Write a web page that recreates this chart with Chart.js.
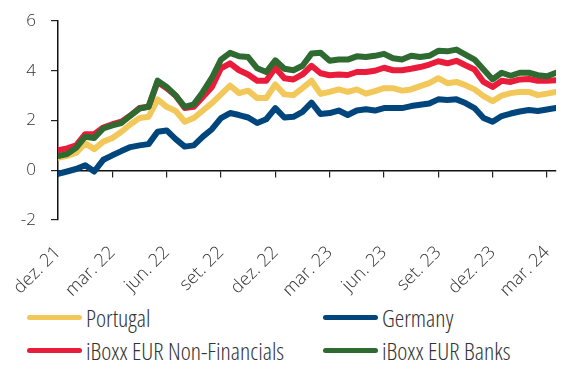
<!DOCTYPE html>
<html>
<head>
<meta charset="utf-8">
<script src="https://cdn.jsdelivr.net/npm/chart.js@4.4.1/dist/chart.umd.min.js"></script>
<style>
    html, body { margin: 0; padding: 0; background: #fff; }
    #wrap { position: relative; width: 562px; height: 371px; overflow: hidden; }
    #chart { position: absolute; left: 0; top: 0; }
    .legend-item {
        position: absolute;
        display: flex;
        align-items: center;
        height: 28px;
        font-family: 'Open Sans', sans-serif;
        font-weight: 300;
        font-stretch: 75%;
        font-size: 24px;
        color: #333;
        white-space: nowrap;
    }
    .legend-swatch { width: 55px; height: 5px; border-radius: 3px; margin-right: 4px; }
</style>
</head>
<body>
<div id="wrap">
    <canvas id="chart" width="562" height="300"></canvas>
    <div id="legend"></div>
</div>
<script>
// ============================================================
// Spreads chart: Portugal, Germany and two iBoxx EUR indices
// ============================================================

// Quarter tick labels (month offset from Dec 2021 -> label)
const tickMonths = [0, 3, 6, 9, 12, 15, 18, 21, 24, 27];
const tickLabels = ['dez. 21', 'mar. 22', 'jun. 22', 'set. 22', 'dez. 22',
                    'mar. 23', 'jun. 23', 'set. 23', 'dez. 23', 'mar. 24'];

// Values read twice a month, starting at Dec 2021
const portugal = [
    0.5, 0.58, 0.7, 1.08, 0.85, 1.15, 1.3, 1.55, 1.85, 2.1,
    2.15, 2.85, 2.55, 2.38, 1.95, 2.1, 2.4, 2.7, 3.05, 3.4,
    3.1, 3.2, 2.9, 2.9, 3.45, 3.05, 3.02, 3.3, 3.6, 3.07,
    3.15, 3.25, 3.15, 3.25, 3.08, 3.18, 3.3, 3.3, 3.2, 3.25,
    3.38, 3.5, 3.7, 3.5, 3.55, 3.42, 3.25, 2.98, 2.78, 3.0,
    3.1, 3.15, 3.15, 3.02, 3.08, 3.15
];
const germany = [
    -0.15, -0.05, 0.05, 0.2, -0.05, 0.42, 0.6, 0.77, 0.93, 1.0,
    1.05, 1.55, 1.6, 1.25, 0.95, 1.0, 1.35, 1.65, 2.1, 2.3,
    2.22, 2.12, 1.9, 2.05, 2.5, 2.12, 2.15, 2.35, 2.72, 2.26,
    2.3, 2.4, 2.22, 2.4, 2.45, 2.4, 2.5, 2.5, 2.5, 2.58,
    2.63, 2.68, 2.85, 2.82, 2.85, 2.7, 2.5, 2.1, 1.95, 2.18,
    2.28, 2.36, 2.42, 2.38, 2.44, 2.5
];
const nonFinancials = [
    0.8, 0.88, 1.0, 1.45, 1.45, 1.72, 1.85, 1.95, 2.2, 2.5,
    2.55, 3.55, 3.3, 3.0, 2.5, 2.55, 2.95, 3.35, 4.1, 4.3,
    4.02, 3.85, 3.6, 3.6, 4.12, 3.7, 3.65, 3.85, 4.2, 3.9,
    3.82, 3.85, 3.83, 3.95, 3.95, 4.0, 4.12, 4.02, 4.02, 4.08,
    4.15, 4.25, 4.38, 4.3, 4.4, 4.22, 4.05, 3.55, 3.35, 3.6,
    3.55, 3.65, 3.67, 3.6, 3.6, 3.62
];
const banks = [
    0.57, 0.65, 0.9, 1.35, 1.3, 1.68, 1.8, 1.9, 2.2, 2.48,
    2.55, 3.6, 3.35, 3.0, 2.55, 2.65, 3.15, 3.72, 4.45, 4.72,
    4.58, 4.55, 4.1, 3.95, 4.42, 4.08, 4.02, 4.2, 4.69, 4.72,
    4.4, 4.45, 4.45, 4.58, 4.55, 4.6, 4.68, 4.5, 4.45, 4.6,
    4.55, 4.6, 4.8, 4.78, 4.85, 4.65, 4.45, 4.05, 3.65, 3.92,
    3.8, 3.92, 3.92, 3.82, 3.78, 3.92
];

const seriesNames = ['Portugal', 'Germany', 'iBoxx EUR Non-Financials', 'iBoxx EUR Banks'];
const seriesData = [portugal, germany, nonFinancials, banks];
const seriesColors = ['#F3C85A', '#00467D', '#E91C3C', '#2F6A31'];
const drawOrder = [2, 3, 1, 0]; // banks on top

const FONT = "'Open Sans', sans-serif";
const xMax = (portugal.length - 1) / 2;

// points sit every half month
function toPoints(values) {
    return values.map((v, i) => ({ x: i / 2, y: v }));
}

function setQuarterTicks(scale) {
    scale.ticks = tickMonths.map(v => ({ value: v }));
}

const datasets = seriesNames.map((name, i) => ({
    label: name,
    data: toPoints(seriesData[i]),
    borderColor: seriesColors[i],
    backgroundColor: seriesColors[i],
    borderWidth: 6,
    borderJoinStyle: 'round',
    borderCapStyle: 'round',
    pointRadius: 0,
    tension: 0,
    order: drawOrder[i]
}));

new Chart(document.getElementById('chart').getContext('2d'), {
    type: 'line',
    data: { datasets },
    options: {
        responsive: false,
        animation: false,
        layout: { padding: { top: 21, right: 6, bottom: 0, left: 0 } },
        plugins: { legend: { display: false }, tooltip: { enabled: false } },
        scales: {
            x: {
                type: 'linear',
                min: 0,
                max: xMax,
                afterBuildTicks: setQuarterTicks,
                afterFit: (s) => { s.height = 80; s.paddingLeft = 0; s.paddingRight = 0; },
                grid: { display: false },
                border: { display: false },
                ticks: {
                    minRotation: 45,
                    maxRotation: 45,
                    padding: 14,
                    color: '#333',
                    font: { family: FONT, size: 18, weight: 300 },
                    callback: (v) => tickLabels[tickMonths.indexOf(v)]
                }
            },
            xZero: {
                type: 'linear',
                position: { y: 0 },
                min: 0,
                max: xMax,
                afterBuildTicks: setQuarterTicks,
                afterFit: (s) => { s.height = 0; s.paddingTop = 0; s.paddingBottom = 0; },
                ticks: { display: false },
                grid: { drawOnChartArea: false, drawTicks: true, tickLength: 6, color: '#222', lineWidth: 1.2 },
                border: { display: true, color: '#111', width: 1.5 }
            },
            y: {
                min: -2,
                max: 6,
                afterFit: (s) => { s.width = 58; s.paddingTop = 0; s.paddingBottom = 0; },
                ticks: {
                    stepSize: 2,
                    padding: 15,
                    color: '#333',
                    font: { family: FONT, size: 17, weight: 300 }
                },
                grid: { drawOnChartArea: false, drawTicks: true, tickLength: 7, color: '#222', lineWidth: 1.2 },
                border: { display: true, color: '#111', width: 1.5 }
            }
        }
    }
});

// Two-column legend under the chart
const legendPos = [
    { left: 27, top: 303 }, { left: 323, top: 303 },
    { left: 27, top: 336 }, { left: 323, top: 336 }
];
const legendEl = document.getElementById('legend');
seriesNames.forEach((name, i) => {
    const item = document.createElement('div');
    item.className = 'legend-item';
    item.style.left = legendPos[i].left + 'px';
    item.style.top = legendPos[i].top + 'px';
    item.innerHTML = '<span class="legend-swatch" style="background:' + seriesColors[i] + '"></span>' + name;
    legendEl.appendChild(item);
});
</script>
</body>
</html>
